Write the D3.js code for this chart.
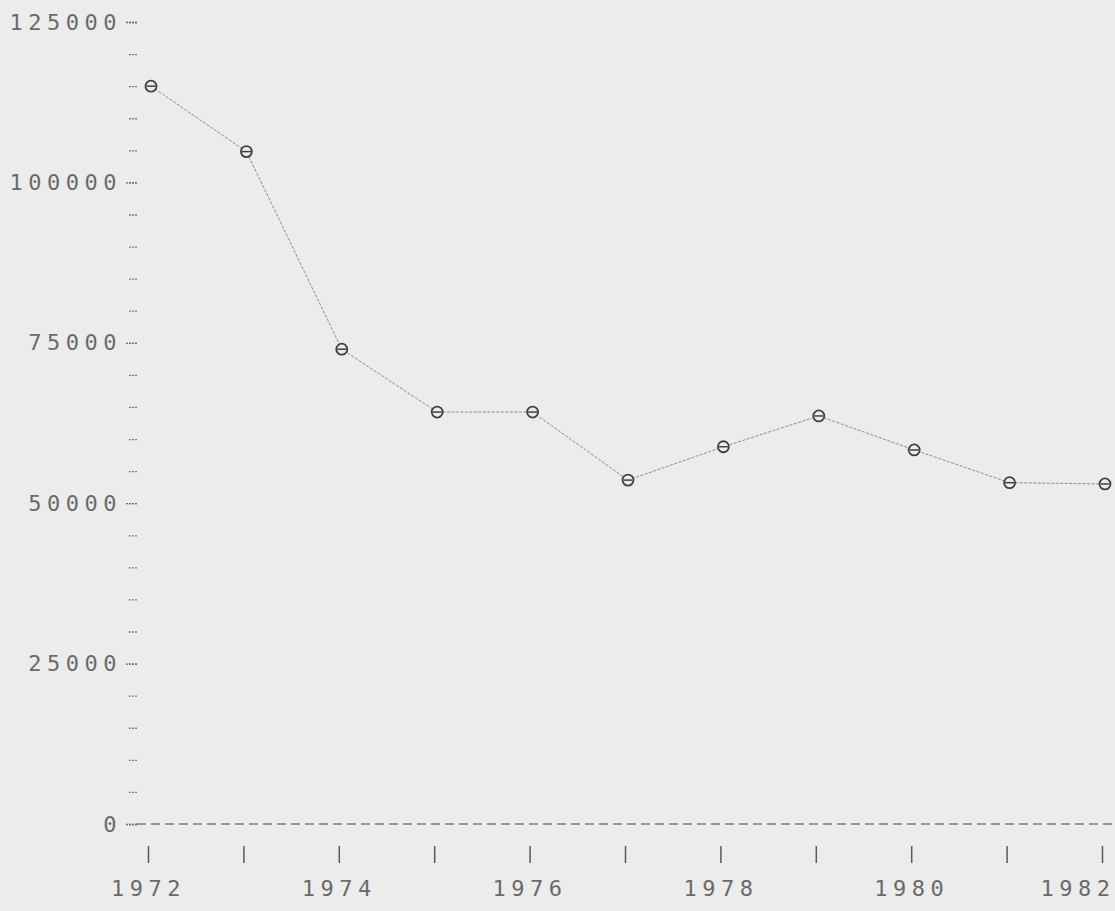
<!DOCTYPE html>
<html>
<head>
<meta charset="utf-8">
<script src="https://cdn.jsdelivr.net/npm/d3@7"></script>
<style>
  body { margin: 0; background: #ececec; }
  svg { display: block; }
  .axis text { font-family: "DejaVu Sans Mono", monospace; font-size: 22px; fill: #6a6a6a; letter-spacing: 5.5px; }
</style>
</head>
<body>
<div id="chart"></div>
<script>
// data
var years = [1972, 1973, 1974, 1975, 1976, 1977, 1978, 1979, 1980, 1981, 1982];
var values = [115000, 104800, 74000, 64200, 64200, 53600, 58800, 63600, 58300, 53200, 53000];
var yMajorTicks = [0, 25000, 50000, 75000, 100000, 125000];
var yMinorTicks = d3.range(0, 125001, 5000);
var xLabelYears = [1972, 1974, 1976, 1978, 1980, 1982];

var width = 1115, height = 911;

var x = d3.scaleLinear()
    .domain([1972, 1982])
    .range([151, 1105]);

var y = d3.scaleLinear()
    .domain([0, 125000])
    .range([824, 22]);

var svg = d3.select("#chart").append("svg")
    .attr("width", width)
    .attr("height", height);

svg.append("rect")
    .attr("width", width)
    .attr("height", height)
    .attr("fill", "#ececec");

// minor ticks on y
var yMinor = d3.axisLeft(y)
    .tickValues(yMinorTicks)
    .tickSize(9)
    .tickFormat("");

svg.append("g")
    .attr("class", "axis y-minor")
    .attr("transform", "translate(137,0)")
    .call(yMinor)
    .call(function(g) { g.select(".domain").remove(); })
    .selectAll("line")
    .attr("stroke", "#7a7a7a")
    .attr("stroke-width", 1.3)
    .attr("stroke-dasharray", "2,1");

// major ticks and labels on y
var yAxis = d3.axisLeft(y)
    .tickValues(yMajorTicks)
    .tickSize(11)
    .tickPadding(4)
    .tickFormat(d3.format("d"));

svg.append("g")
    .attr("class", "axis y")
    .attr("transform", "translate(137,0)")
    .call(yAxis)
    .call(function(g) { g.select(".domain").remove(); })
    .selectAll("line")
    .attr("stroke", "#6a6a6a")
    .attr("stroke-width", 1.3)
    .attr("stroke-dasharray", "2,1");

// dashed zero line
svg.append("line")
    .attr("x1", 137)
    .attr("x2", width)
    .attr("y1", y(0))
    .attr("y2", y(0))
    .attr("stroke", "#7a7a7a")
    .attr("stroke-width", 1.3)
    .attr("stroke-dasharray", "9,5");

// x axis, ticks every year, labels on even years
var xAxis = d3.axisBottom(x)
    .tickValues(years)
    .tickSize(17)
    .tickPadding(17)
    .tickFormat(function(d) { return xLabelYears.indexOf(d) >= 0 ? d : ""; });

var gx = svg.append("g")
    .attr("class", "axis x")
    .attr("transform", "translate(-3,846)")
    .call(xAxis)
    .call(function(g) { g.select(".domain").remove(); });

gx.selectAll("line")
    .attr("stroke", "#5a5a5a")
    .attr("stroke-width", 1.5);

// last label sits against the right edge
gx.selectAll(".tick text")
    .filter(function(d) { return d === years[years.length - 1]; })
    .attr("text-anchor", "end")
    .attr("x", 13);

// the series
var series = years.map(function(d, i) { return {year: d, value: values[i]}; });

var line = d3.line()
    .x(function(d) { return x(d.year); })
    .y(function(d) { return y(d.value); });

svg.append("path")
    .datum(series)
    .attr("fill", "none")
    .attr("stroke", "#8c8c8c")
    .attr("stroke-width", 1)
    .attr("stroke-dasharray", "3,1.5")
    .attr("d", line);

var marks = svg.selectAll(".mark")
    .data(series)
    .enter().append("g")
    .attr("class", "mark")
    .attr("transform", function(d) { return "translate(" + x(d.year) + "," + y(d.value) + ")"; });

marks.append("circle")
    .attr("r", 5.5)
    .attr("fill", "#ececec")
    .attr("stroke", "#404040")
    .attr("stroke-width", 1.8);

marks.append("line")
    .attr("x1", -4.5)
    .attr("x2", 4.5)
    .attr("stroke", "#404040")
    .attr("stroke-width", 1.5);
</script>
</body>
</html>
